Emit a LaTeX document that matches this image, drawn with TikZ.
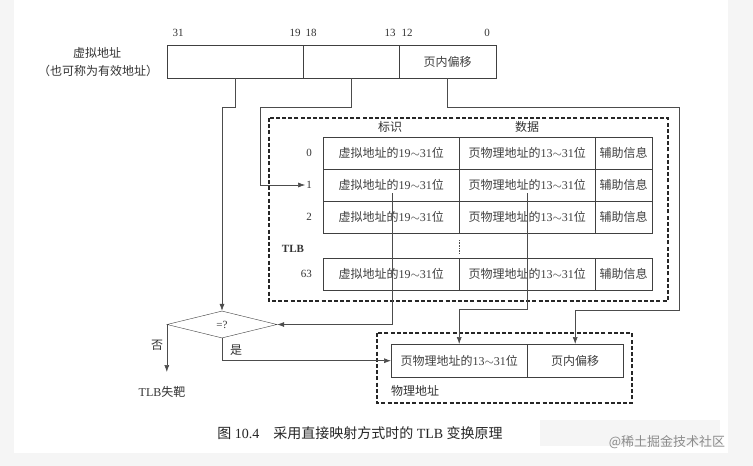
\documentclass[tikz,border=0pt]{standalone}
\usepackage{fontspec}
\setmainfont{Liberation Serif}
\newfontfamily\cjk{Noto Sans CJK SC}
\usetikzlibrary{shapes.geometric,arrows.meta}

\newcommand{\vtag}{{\cjk 虚拟地址的}19$\sim$31{\cjk 位}}
\newcommand{\ptag}{{\cjk 页物理地址的}13$\sim$31{\cjk 位}}

\tikzset{
  cell/.style={draw=black!75, anchor=north west, inner sep=0pt, minimum height=32pt,
    text=black!75, font=\fontsize{12}{13}\selectfont},
  conn/.style={draw=black!70, line width=0.6pt},
  arr/.style={conn, -{Latex[length=7pt,width=5pt]}},
  dashbox/.style={draw=black!85, line width=1.6pt, dash pattern=on 4pt off 2.2pt},
  lbl/.style={text=black!80, font=\fontsize{11}{12}\selectfont, inner sep=1pt},
}

\begin{document}
\begin{tikzpicture}[x=1pt, y=-1pt]
    \useasboundingbox (0,0) rectangle (753,466);
    % Page
    \fill[black!4] (0,0) rectangle (753,466);
    \fill[white] (14,-1) rectangle (728,453);
    \fill[black!4] (540,420) rectangle (720,446);

    % Virtual address
    \node[cell, minimum width=136pt, minimum height=33pt] (va1) at (167,45) {};
    \node[cell, minimum width=96pt, minimum height=33pt] (va2) at (303,45) {};
    \node[cell, minimum width=97pt, minimum height=33pt] (va3) at (399,45) {\cjk 页内偏移};
    \node[lbl] (b31) at (178,33) {31};
    \node[lbl] (b19) at (295,33) {19};
    \node[lbl] (b18) at (311,33) {18};
    \node[lbl] (b13) at (390,33) {13};
    \node[lbl] (b12) at (407,33) {12};
    \node[lbl] (b0) at (487,33) {0};
    \node[lbl, font=\cjk\fontsize{12}{13}\selectfont] (vname) at (97,53) {虚拟地址};
    \node[lbl, font=\cjk\fontsize{12}{13}\selectfont] (vnote) at (98,71) {（也可称为有效地址）};

    % TLB
    \draw[dashbox] (269,118) rectangle (668,301);
    \node[lbl, font=\cjk\fontsize{12}{13}\selectfont] (htag) at (390,127) {标识};
    \node[lbl, font=\cjk\fontsize{12}{13}\selectfont] (hdat) at (527,127) {数据};
    \foreach \r/\y in {0/137,1/169,2/201,63/258}{
        \node[cell, minimum width=136pt] (tag\r) at (323,\y) {\vtag};
        \node[cell, minimum width=136pt] (dat\r) at (459,\y) {\ptag};
        \node[cell, minimum width=57pt] (aux\r) at (595,\y) {\cjk 辅助信息};
        \node[lbl, anchor=east] (idx\r) at (313,\y+16) {\r};
    }
    \node[lbl, font=\bfseries\fontsize{11}{12}\selectfont] (tlb) at (293,249) {TLB};
    \draw[black!70, line width=0.8pt, dash pattern=on 0.8pt off 0.8pt] (459,240) -- (459,253);

    % Compare
    \node[draw=black!75, diamond, aspect=4, minimum width=110pt, minimum height=27pt,
        inner sep=0pt, lbl] (eq) at (222,324.5) {=?};
    \node[lbl, font=\fontsize{12}{13}\selectfont] (miss) at (162,392) {TLB{\cjk 失靶}};
    \node[lbl, font=\cjk\fontsize{12}{13}\selectfont] (no) at (157,345) {否};
    \node[lbl, font=\cjk\fontsize{12}{13}\selectfont] (yes) at (236,350) {是};

    % Physical address
    \draw[dashbox] (377,333) rectangle (632,403);
    \node[cell, minimum width=136pt, minimum height=33pt] (pa1) at (391,344) {\ptag};
    \node[cell, minimum width=96pt, minimum height=33pt] (pa2) at (527,344) {\cjk 页内偏移};
    \node[lbl, font=\cjk\fontsize{12}{13}\selectfont] (pname) at (415,391) {物理地址};

    % Connectors
    \coordinate (tagout) at (392,193);
    \coordinate (datout) at (527,193);
    \draw[arr] (va1.south) |- (222,107) -- (eq.north);
    \draw[arr] (va2.south) |- (260,107) |- (idx1.west);
    \draw[arr] (va3.south) |- (679,107) -- (679,310) -| (pa2.north);
    \draw[arr] (tagout) |- (eq.east);
    \draw[arr] (datout) -- ++(0,116) -| (pa1.north);
    \draw[arr] (eq.west) -- (eq.west |- 0,372);
    \draw[arr] (eq.south) |- (pa1.west);

    % Caption
    \node[text=black!85, font=\fontsize{14}{15}\selectfont] (cap) at (360,433)
        {{\cjk 图} 10.4\quad{\cjk 采用直接映射方式时的} TLB {\cjk 变换原理}};
    \node[text=black!45, font=\cjk\fontsize{13}{14}\selectfont] (mark) at (667,442) {@稀土掘金技术社区};
\end{tikzpicture}
\end{document}
